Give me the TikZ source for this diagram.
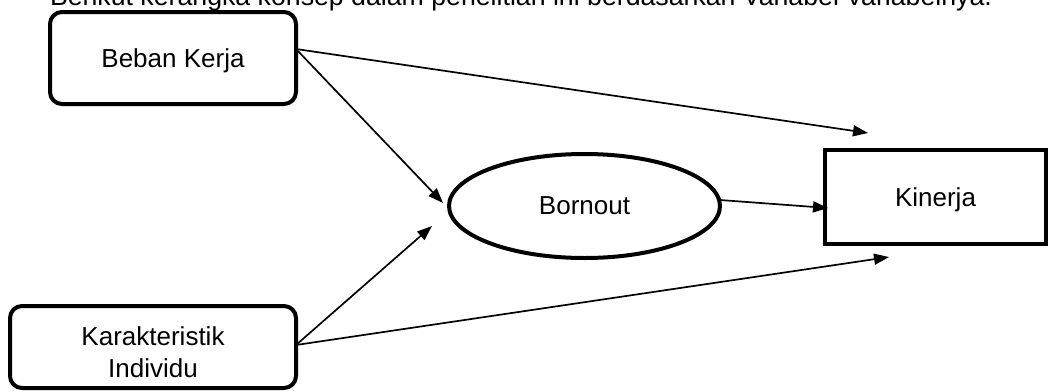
\documentclass[tikz,border=0pt]{standalone}
\usepackage{fontspec}
\setmainfont{Liberation Sans}
\usetikzlibrary{arrows.meta,shapes.geometric}
\begin{document}
\begin{tikzpicture}[x=1pt,y=-1pt,
  every node/.style={font=\fontsize{26}{32.5}\selectfont, inner sep=0pt, outer sep=0pt},
  roundbox/.style={draw, line width=4pt, rounded corners=12pt, text depth=0pt},
  squarebox/.style={draw, line width=4pt, text depth=0pt},
  oval/.style={draw, ellipse, line width=4pt},
  conn/.style={line width=1.7pt, -{Triangle[length=15pt,width=11pt]}}]
\useasboundingbox (0,0) rectangle (1049,391);
\clip (0,0) rectangle (1049,391);
\node[anchor=base west, font=\fontsize{26.7}{30}\selectfont] (title) at (50,5) {Berikut kerangka konsep dalam penelitian ini berdasarkan Variabel-variabelnya.};
\node[roundbox, minimum width=246pt, minimum height=92pt] (bk) at (173,58) {Beban Kerja};
\node[roundbox, minimum width=286pt, minimum height=82pt] (ki) at (153,347) {};
\node[align=center] (kit) at ([yshift=-5pt]ki.center) {Karakteristik\\Individu};
\node[oval, minimum width=271pt, minimum height=104pt] (bo) at (584.5,206) {Bornout};
\node[squarebox, minimum width=221pt, minimum height=94pt] (kn) at (935.5,197) {Kinerja};
\coordinate (t1) at (868,133);
\coordinate (t2) at (443,203);
\coordinate (t3) at (432,226);
\coordinate (t4) at (889,257);
\coordinate (t5) at (828,208);
\draw[conn] ([yshift=9pt]bk.east) -- (t1);
\draw[conn] ([yshift=9pt]bk.east) -- (t2);
\draw[conn] ([yshift=2pt]ki.east) -- (t3);
\draw[conn] ([yshift=2pt]ki.east) -- (t4);
\draw[conn] ([yshift=6pt]bo.east) -- (t5);
\end{tikzpicture}
\end{document}
